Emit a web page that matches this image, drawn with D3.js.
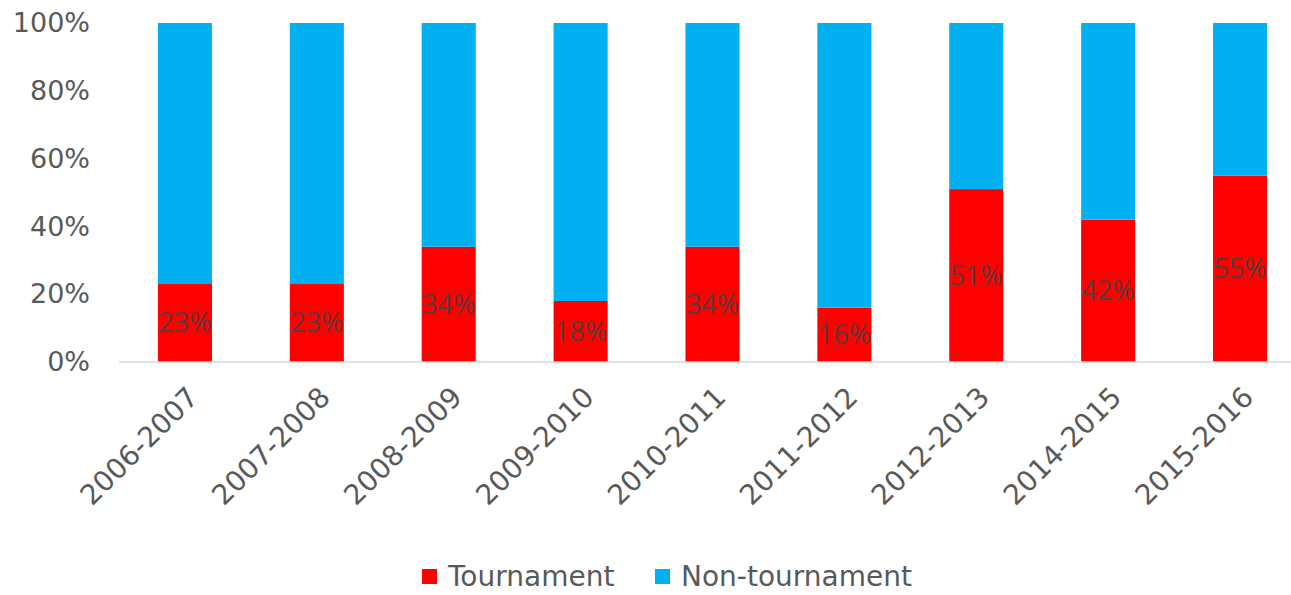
<!DOCTYPE html>
<html>
<head>
<meta charset="utf-8">
<script src="https://cdn.jsdelivr.net/npm/d3@7"></script>
<style>
  body { margin: 0; background: #fff; }
  svg text { font-family: "DejaVu Sans", sans-serif; fill: #595959; }
</style>
</head>
<body>
<div id="chart"></div>
<script>
// data
var seasons = ["2006-2007", "2007-2008", "2008-2009", "2009-2010", "2010-2011",
               "2011-2012", "2012-2013", "2014-2015", "2015-2016"];
var tournament = [23, 23, 34, 18, 34, 16, 51, 42, 55];
var nonTournament = tournament.map(function(v) { return 100 - v; });
var yTicks = [0, 20, 40, 60, 80, 100];
var seriesNames = ["Tournament", "Non-tournament"];
var colors = ["#ff0000", "#00b0f0"];

var svgWidth = 1291, svgHeight = 595;
var plot = { left: 119, right: 1306, top: 23, bottom: 362 };

var svg = d3.select("#chart").append("svg")
  .attr("width", svgWidth)
  .attr("height", svgHeight);

var x = d3.scaleBand().domain(seasons).range([plot.left, plot.right]).paddingInner(0.59).paddingOuter(0.295);
var y = d3.scaleLinear().domain([0, 100]).range([plot.bottom, plot.top]);

// y axis labels (no line, no ticks)
var yAxis = svg.append("g")
  .attr("transform", "translate(" + plot.left + ",0)")
  .call(d3.axisLeft(y).tickValues(yTicks).tickSize(0).tickPadding(29).tickFormat(function(d) { return d + "%"; }));
yAxis.select(".domain").remove();
yAxis.selectAll("text").style("font-size", "27px").style("font-family", "DejaVu Sans").attr("fill", "#595959");

// stacked bars
var stack = d3.stack().keys([0, 1]).value(function(d, k) { return k === 0 ? d.t : d.n; });
var rows = seasons.map(function(s, i) { return { season: s, t: tournament[i], n: nonTournament[i] }; });
var layers = stack(rows);

svg.selectAll("g.layer")
  .data(layers)
  .enter().append("g")
  .attr("class", "layer")
  .attr("fill", function(d, i) { return colors[i]; })
  .selectAll("rect")
  .data(function(d) { return d; })
  .enter().append("rect")
  .attr("x", function(d) { return x(d.data.season); })
  .attr("width", x.bandwidth())
  .attr("y", function(d) { return y(d[1]); })
  .attr("height", function(d) { return y(d[0]) - y(d[1]); });

// baseline
svg.append("line")
  .attr("x1", plot.left).attr("x2", plot.right)
  .attr("y1", y(0)).attr("y2", y(0))
  .attr("stroke", "#d9d9d9").attr("stroke-width", 1.5);

// data labels in the tournament segment
svg.selectAll("text.lbl")
  .data(rows)
  .enter().append("text")
  .attr("class", "lbl")
  .attr("x", function(d) { return x(d.season) + x.bandwidth() / 2; })
  .attr("y", function(d) { return y(d.t / 2); })
  .attr("dy", "0.35em")
  .attr("text-anchor", "middle")
  .style("font-family", "Open Sans")
  .style("font-size", "27px")
  .style("fill", "#5a3a3a")
  .text(function(d) { return d.t + "%"; });

// x labels rotated
svg.selectAll("text.xl")
  .data(seasons)
  .enter().append("text")
  .attr("class", "xl")
  .attr("transform", function(d) { return "translate(" + (x(d) + x.bandwidth() / 2 + 8) + "," + (plot.bottom + 30) + ") rotate(-45)"; })
  .attr("text-anchor", "end")
  .attr("dy", "0.35em")
  .style("font-size", "28px")
  .text(function(d) { return d; });

// legend
var legend = svg.append("g").attr("transform", "translate(422,576)");
var lx = [0, 233];
seriesNames.forEach(function(name, i) {
  var g = legend.append("g").attr("transform", "translate(" + lx[i] + ",0)");
  g.append("rect").attr("x", 0).attr("y", -7).attr("width", 15).attr("height", 15).attr("fill", colors[i]);
  g.append("text").attr("x", 26).attr("dy", "0.35em").style("font-size", "28px").text(name);
});
</script>
</body>
</html>
